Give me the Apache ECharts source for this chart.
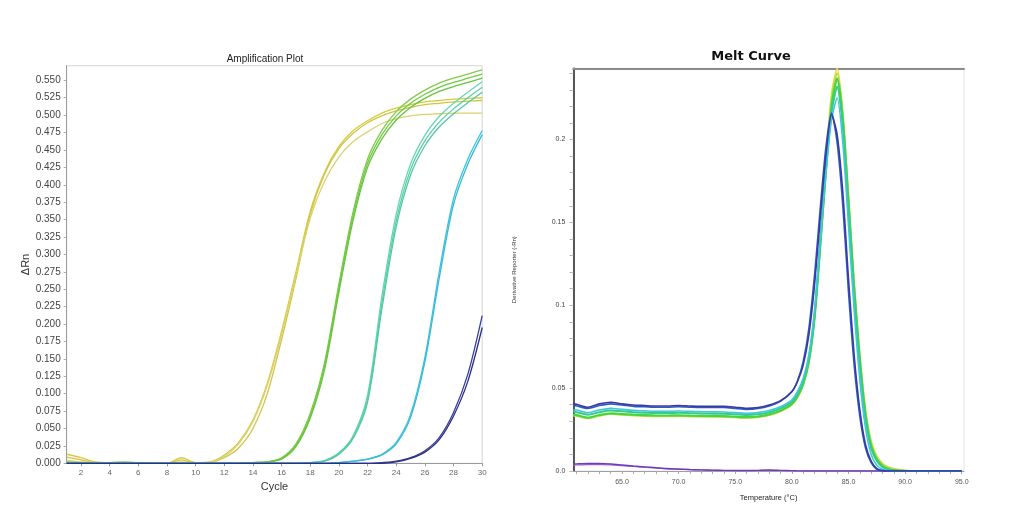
<!DOCTYPE html>
<html>
<head>
<meta charset="utf-8">
<script src="https://cdn.jsdelivr.net/npm/echarts@6/dist/echarts.min.js"></script>
<style>
html,body{margin:0;padding:0;background:#fff;}
#chart{width:1010px;height:517px;}
</style>
</head>
<body>
<div id="chart"></div>
<script>
// ---------- Amplification Plot data ----------
const cycles = [1,2,3,4,5,6,7,8,9,10,11,12,13,14,15,16,17,18,19,20,21,22,23,24,25,26,27,28,29,30];
const ampYTicks = [0,0.025,0.05,0.075,0.1,0.125,0.15,0.175,0.2,0.225,0.25,0.275,0.3,0.325,0.35,0.375,0.4,0.425,0.45,0.475,0.5,0.525,0.55];
const ampXTicks = [2,4,6,8,10,12,14,16,18,20,22,24,26,28,30];

const yellowA = [0.013,0.008,0.002,0.001,0.001,0,0,0,0.008,0.001,0.002,0.012,0.030,0.062,0.115,0.190,0.275,0.362,0.418,0.455,0.478,0.492,0.503,0.510,0.515,0.519,0.521,0.523,0.524,0.525];
const yellowB = [0.009,0.005,0.001,0.001,0,0,0,0,0.005,0,0.001,0.008,0.022,0.050,0.100,0.178,0.265,0.358,0.416,0.452,0.474,0.489,0.499,0.506,0.511,0.515,0.517,0.519,0.520,0.521];
const yellowC = [0.004,0.002,0.001,0,0,0,0,0,0.002,0,0.001,0.010,0.028,0.060,0.112,0.185,0.270,0.352,0.405,0.440,0.462,0.476,0.488,0.495,0.499,0.501,0.502,0.503,0.503,0.503];
const greenA = [0.002,0.001,0.001,0.001,0.002,0.001,0,0,0,0,0,0,0,0.001,0.002,0.008,0.028,0.072,0.145,0.258,0.362,0.437,0.478,0.505,0.523,0.536,0.546,0.553,0.559,0.565];
const greenB = [0.001,0.001,0.001,0.001,0.001,0.001,0,0,0,0,0,0,0,0.001,0.002,0.007,0.026,0.068,0.140,0.252,0.356,0.431,0.472,0.499,0.517,0.530,0.540,0.547,0.553,0.559];
const greenC = [0.001,0.001,0,0.001,0.001,0,0,0,0,0,0,0,0,0.001,0.002,0.006,0.024,0.065,0.135,0.246,0.350,0.425,0.466,0.493,0.511,0.524,0.534,0.541,0.547,0.553];
const tealA = [0,0,0,0,0,0,0,0,0,0,0,0,0,0,0,0,0,0.001,0.004,0.015,0.040,0.098,0.240,0.358,0.430,0.471,0.498,0.517,0.533,0.548];
const tealB = [0,0,0,0,0,0,0,0,0,0,0,0,0,0,0,0,0,0.001,0.004,0.014,0.038,0.093,0.230,0.348,0.422,0.463,0.490,0.509,0.525,0.540];
const tealC = [0,0,0,0,0,0,0,0,0,0,0,0,0,0,0,0,0,0.001,0.003,0.013,0.036,0.088,0.222,0.340,0.414,0.456,0.483,0.502,0.518,0.533];
const cyanA = [0,0,0,0,0,0,0,0,0,0,0,0,0,0,0,0,0,0,0,0.001,0.003,0.006,0.013,0.030,0.070,0.152,0.275,0.380,0.437,0.478];
const cyanB = [0,0,0,0,0,0,0,0,0,0,0,0,0,0,0,0,0,0,0,0.001,0.003,0.006,0.012,0.028,0.066,0.146,0.266,0.372,0.430,0.472];
const navyA = [0,0,0,0,0,0,0,0,0,0,0,0,0,0,0,0,0,0,0,0,0,0,0.001,0.003,0.008,0.018,0.037,0.073,0.128,0.212];
const navyB = [0,0,0,0,0,0,0,0,0,0,0,0,0,0,0,0,0,0,0,0,0,0,0,0.002,0.007,0.016,0.034,0.068,0.118,0.195];

// ---------- Melt Curve data ----------
const meltTemps = [60.7,61,62,63,64,65,66,67,68,69,70,71,72,73,74,75,76,77,78,79,80,80.5,81,81.5,82,82.5,83,83.5,84,84.5,85,85.5,86,86.5,87,87.5,88,88.5,89,90,91,92,93,94,95];
const meltXTicks = [65,70,75,80,85,90,95];
const meltXMinorTicks = [61,62,63,64,65,66,67,68,69,70,71,72,73,74,75,76,77,78,79,80,81,82,83,84,85,86,87,88,89,90,91,92,93,94,95];
const meltYTicks = [0,0.05,0.1,0.15,0.2];
const meltYTickLabels = ['0.0','0.05','0.1','0.15','0.2'];
const meltYMinorTicks = [0,0.01,0.02,0.03,0.04,0.05,0.06,0.07,0.08,0.09,0.1,0.11,0.12,0.13,0.14,0.15,0.16,0.17,0.18,0.19,0.2,0.21,0.22,0.23,0.24];

const meltNavy1 = [0.0405,0.0402,0.0385,0.0405,0.0415,0.0405,0.0398,0.0395,0.0392,0.0392,0.0395,0.0392,0.039,0.039,0.039,0.0385,0.0378,0.0383,0.0398,0.0425,0.048,0.054,0.064,0.082,0.112,0.152,0.19,0.215,0.203,0.168,0.116,0.07,0.037,0.016,0.006,0.0015,0.0003,0,0,0,0,0,0,0,0];
const meltNavy2 = [0.0395,0.0392,0.0378,0.0395,0.0405,0.0398,0.039,0.0388,0.0385,0.0385,0.0388,0.0385,0.0383,0.0383,0.0383,0.0378,0.0372,0.0377,0.0392,0.042,0.0478,0.0545,0.066,0.086,0.118,0.158,0.195,0.216,0.198,0.16,0.108,0.064,0.033,0.014,0.005,0.001,0,0,0,0,0,0,0,0,0];
const meltCyan = [0.037,0.0368,0.0352,0.0368,0.0378,0.0372,0.0366,0.0363,0.036,0.036,0.0362,0.036,0.0358,0.0357,0.0356,0.0352,0.0348,0.0352,0.0365,0.0388,0.043,0.048,0.056,0.07,0.097,0.138,0.18,0.212,0.225,0.198,0.148,0.097,0.055,0.026,0.01,0.0035,0.001,0.0003,0,0,0,0,0,0,0];
const meltTeal = [0.0358,0.0355,0.034,0.0355,0.0365,0.036,0.0355,0.0352,0.035,0.035,0.0351,0.0349,0.0347,0.0346,0.0345,0.0342,0.0338,0.0342,0.0355,0.0378,0.0418,0.0465,0.054,0.068,0.094,0.136,0.18,0.216,0.232,0.208,0.158,0.107,0.064,0.032,0.014,0.006,0.0025,0.001,0.0003,0,0,0,0,0,0];
const meltGreen = [0.034,0.0337,0.0322,0.0338,0.0348,0.0344,0.034,0.0337,0.0335,0.0335,0.0336,0.0334,0.0333,0.0332,0.0331,0.0328,0.0325,0.0329,0.0342,0.0365,0.0405,0.045,0.0525,0.066,0.092,0.135,0.181,0.22,0.237,0.212,0.162,0.11,0.067,0.034,0.015,0.007,0.003,0.0012,0.0004,0,0,0,0,0,0];
const meltLime = [0.0337,0.0334,0.032,0.0335,0.0345,0.0341,0.0337,0.0334,0.0332,0.0332,0.0333,0.0331,0.033,0.0329,0.0328,0.0325,0.0322,0.0326,0.0339,0.0362,0.0402,0.0447,0.0522,0.066,0.093,0.137,0.184,0.224,0.240,0.214,0.164,0.112,0.069,0.036,0.017,0.008,0.004,0.002,0.001,0.0002,0,0,0,0,0];
const meltYellow = [0.0335,0.0332,0.0318,0.0333,0.0343,0.0339,0.0335,0.0332,0.033,0.033,0.0331,0.0329,0.0328,0.0327,0.0326,0.0323,0.032,0.0324,0.0337,0.036,0.04,0.0445,0.052,0.066,0.093,0.138,0.186,0.227,0.243,0.216,0.166,0.114,0.07,0.037,0.018,0.009,0.0045,0.0025,0.0014,0.0004,0,0,0,0,0];
const meltPurple1 = [0.0042,0.0043,0.0045,0.0045,0.0042,0.0036,0.003,0.0025,0.002,0.0015,0.0012,0.0009,0.0007,0.0005,0.0004,0.0003,0.0003,0.0004,0.0006,0.0004,0.0002,0.0001,0,0,0,0,0,0,0,0,0,0,0,0,0,0,0,0,0,0,0,0,0,0,0];
const meltPurple2 = [0.0036,0.0037,0.0039,0.0039,0.0037,0.0032,0.0027,0.0022,0.0018,0.0013,0.001,0.0008,0.0006,0.0004,0.0003,0.0002,0.0002,0.0003,0.0004,0.0003,0.0001,0,0,0,0,0,0,0,0,0,0,0,0,0,0,0,0,0,0,0,0,0,0,0,0];

// ---------- build ----------
function pairs(xs, ys){ return xs.map((x,i)=>[x, ys[i]]); }

const ampSets = [
  [yellowA,'#d6cb3e'],[yellowB,'#cfc545'],[yellowC,'#dcd070'],
  [greenA,'#7fcc4a'],[greenB,'#72c944'],[greenC,'#66c43e'],
  [tealA,'#68d6b2'],[tealB,'#5ccfaa'],[tealC,'#52c9a4'],
  [cyanA,'#3ec3dc'],[cyanB,'#36bad6'],
  [navyA,'#3a3f9c'],[navyB,'#2c2f86']
];
const meltSets = [
  [meltPurple2,'#b060c8',1.2],[meltPurple1,'#6e3cb8',1.4],
  [meltYellow,'#e2dc4a',1.8],[meltLime,'#b6dc3c',1.8],[meltGreen,'#46d444',2.2],[meltTeal,'#34cc88',2],
  [meltCyan,'#3ec8d8',1.6],[meltNavy2,'#2a5cc8',1.6],[meltNavy1,'#3a3aa2',1.6]
];

const series = [];
ampSets.forEach(([v,c])=>{
  series.push({type:'line', xAxisIndex:0, yAxisIndex:0, data:pairs(cycles,v), symbol:'none', smooth:0.3,
    lineStyle:{color:c, width:1.3}, itemStyle:{color:c}, silent:true});
});
meltSets.forEach(([v,c,w])=>{
  series.push({type:'line', xAxisIndex:1, yAxisIndex:1, data:pairs(meltTemps,v), symbol:'none', smooth:0.25,
    lineStyle:{color:c, width:w}, itemStyle:{color:c}, silent:true});
});

const chart = echarts.init(document.getElementById('chart'), null, {renderer:'canvas'});
chart.setOption({
  animation:false,
  backgroundColor:'#fff',
  title:[
    {text:'Amplification Plot', left:260, top:49, textAlign:'center',
     textStyle:{fontFamily:'Liberation Sans, Arial', fontSize:10, fontWeight:'normal', color:'#222'}},
    {text:'Melt Curve', left:746, top:45, textAlign:'center',
     textStyle:{fontFamily:'DejaVu Sans', fontSize:13, fontWeight:'bold', color:'#111'}}
  ],
  grid:[
    {left:66.7, top:65.7, width:415.5, height:397.6, show:true, borderColor:'#d4d4d4', borderWidth:1, containLabel:false},
    {left:573.3, top:68.3, width:390.7, height:402.7, show:true, borderColor:'#e4e4e4', borderWidth:1, containLabel:false}
  ],
  xAxis:[
    {type:'value', gridIndex:0, min:1, max:30,
     name:'Cycle', nameLocation:'middle', nameGap:18,
     nameTextStyle:{fontFamily:'Liberation Sans, Arial', fontSize:11, color:'#333'},
     axisLine:{lineStyle:{color:'#9a9a9a', width:1}},
     axisTick:{show:true, customValues:ampXTicks, length:3, lineStyle:{color:'#999'}},
     axisLabel:{customValues:ampXTicks, fontSize:8, color:'#666', margin:5, fontFamily:'Liberation Sans, Arial'},
     splitLine:{show:false}},
    {type:'value', gridIndex:1, min:60.7, max:95.2,
     name:'Temperature (°C)', nameLocation:'middle', nameGap:23,
     nameTextStyle:{fontFamily:'Liberation Sans, Arial', fontSize:7.5, color:'#222'},
     axisLine:{lineStyle:{color:'#a0a0a0', width:1}},
     axisTick:{show:true, customValues:meltXMinorTicks, length:3, lineStyle:{color:'#aaa'}},
     axisLabel:{customValues:meltXTicks, fontSize:7, color:'#555', margin:8, fontFamily:'Liberation Sans, Arial',
       formatter:(v)=>v.toFixed(1)},
     splitLine:{show:false}},
    {type:'value', gridIndex:1, position:'top', min:60.7, max:95.2,
     axisLine:{show:true, lineStyle:{color:'#8a8a8a', width:2}},
     axisTick:{show:false}, axisLabel:{show:false}, splitLine:{show:false}}
  ],
  yAxis:[
    {type:'value', gridIndex:0, min:0, max:0.571,
     name:'ΔRn', nameLocation:'middle', nameGap:24, nameRotate:90,
     nameTextStyle:{fontFamily:'Liberation Sans, Arial', fontSize:11, color:'#333'},
     axisLine:{show:true, lineStyle:{color:'#9a9a9a', width:1}},
     axisTick:{show:true, customValues:ampYTicks, length:3, lineStyle:{color:'#aaa'}},
     axisLabel:{customValues:ampYTicks, fontSize:10, color:'#444', margin:6, fontFamily:'Liberation Sans, Arial',
       formatter:(v)=>v.toFixed(3)},
     splitLine:{show:false}},
    {type:'value', gridIndex:1, min:0, max:0.243,
     name:'Derivative Reporter (-Rn)', nameLocation:'middle', nameGap:56, nameRotate:90,
     nameTextStyle:{fontFamily:'Liberation Sans, Arial', fontSize:6, color:'#333'},
     axisLine:{show:true, lineStyle:{color:'#222', width:1.5}},
     axisTick:{show:true, customValues:meltYMinorTicks, length:4, lineStyle:{color:'#bbb'}},
     axisLabel:{customValues:meltYTicks, fontSize:7, color:'#444', margin:8, fontFamily:'Liberation Sans, Arial',
       formatter:(v)=>{ const i = meltYTicks.findIndex(t=>Math.abs(t-v)<1e-9); return i>=0 ? meltYTickLabels[i] : ''; }},
     splitLine:{show:false}}
  ],
  series: series
});
</script>
</body>
</html>
